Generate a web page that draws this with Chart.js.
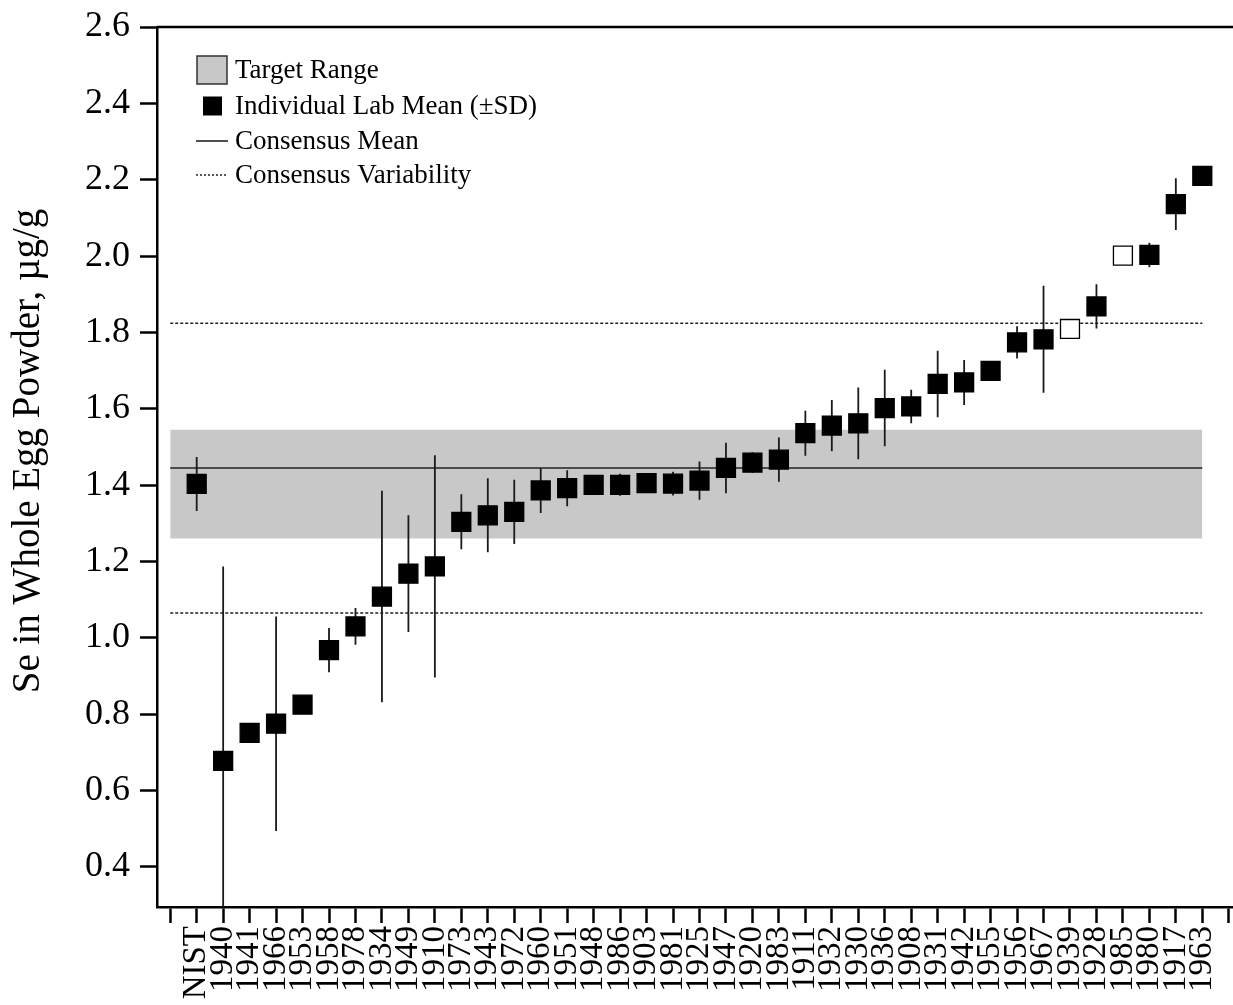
<!DOCTYPE html>
<html>
<head>
<meta charset="utf-8">
<title>Se in Whole Egg Powder</title>
<script src="https://cdn.jsdelivr.net/npm/chart.js@4.4.0/dist/chart.umd.min.js"></script>
<style>
  html, body { margin: 0; padding: 0; background: #fff; overflow: hidden; }
  #wrap { position: relative; width: 1242px; height: 1005px; }
</style>
</head>
<body>
<div id="wrap"><canvas id="chart" width="1242" height="1005"></canvas></div>
<script>
// ====== DADOS ======
// labs ordered by mean value, NIST reference first
const labs = ["NIST", "1940", "1941", "1966", "1953", "1958", "1978", "1934", "1949", "1910",
  "1973", "1943", "1972", "1960", "1951", "1948", "1986", "1903", "1981", "1925",
  "1947", "1920", "1983", "1911", "1932", "1930", "1936", "1908", "1931", "1942",
  "1955", "1956", "1967", "1939", "1928", "1985", "1980", "1917", "1963"];

const means = [1.403, 0.678, 0.751, 0.775, 0.825, 0.968, 1.030, 1.108, 1.168, 1.187,
  1.304, 1.321, 1.330, 1.386, 1.392, 1.401, 1.401, 1.405, 1.404, 1.412,
  1.445, 1.459, 1.467, 1.536, 1.556, 1.562, 1.602, 1.606, 1.665, 1.669,
  1.699, 1.774, 1.782, 1.809, 1.868, 2.001, 2.003, 2.136, 2.210];

const sds = [0.071, 0.509, 0, 0.281, 0, 0.058, 0.048, 0.277, 0.153, 0.291,
  0.072, 0.097, 0.084, 0.059, 0.047, 0, 0.029, 0.015, 0.031, 0.050,
  0.066, 0.027, 0.058, 0.059, 0.067, 0.094, 0.100, 0.044, 0.087, 0.059,
  0, 0.042, 0.140, 0, 0.058, 0, 0.032, 0.068, 0];

// labs drawn as open squares
const openLabs = ["1939", "1985"];

const consensusMean = 1.445;
const targetRange = [1.26, 1.545];
const variability = [1.065, 1.824];

const yTicks = [0.4, 0.6, 0.8, 1.0, 1.2, 1.4, 1.6, 1.8, 2.0, 2.2, 2.4, 2.6];

const yTitle = "Se in Whole Egg Powder, \u00B5g/g";
const legendLabels = ["Target Range", "Individual Lab Mean (\u00B1SD)", "Consensus Mean", "Consensus Variability"];

// ====== MONTAGEM ======
const FONT = '"Liberation Serif", "Times New Roman", serif';
Chart.defaults.font.family = FONT;
Chart.defaults.color = "#000";

const firstX = -1;
const lastX = labs.length - 1;

const markerPoints = labs.map((lab, i) => ({ x: i, y: means[i] }));
const markerFill = labs.map(lab => openLabs.includes(lab) ? "#fff" : "#000");

const errorBarPoints = [];
labs.forEach((lab, i) => {
  if (!sds[i]) return;
  errorBarPoints.push({ x: i, y: means[i] - sds[i] });
  errorBarPoints.push({ x: i, y: means[i] + sds[i] });
  errorBarPoints.push({ x: i, y: null });
});

const hLine = v => [{ x: firstX, y: v }, { x: lastX, y: v }];

// moldura superior, titulo do eixo y e legenda
const framePlugin = {
  id: "frame",
  afterDraw(chart) {
    const ctx = chart.ctx;
    const { left, right, top } = chart.chartArea;
    ctx.save();
    ctx.strokeStyle = "#000";
    ctx.lineWidth = 2.5;
    ctx.beginPath();
    ctx.moveTo(left, top);
    ctx.lineTo(right, top);
    ctx.stroke();

    // titulo do eixo y
    ctx.save();
    ctx.translate(29, top + 424);
    ctx.rotate(-Math.PI / 2);
    ctx.font = "39px " + FONT;
    ctx.fillStyle = "#000";
    ctx.textAlign = "center";
    ctx.textBaseline = "middle";
    ctx.fillText(yTitle, 0, 0);
    ctx.restore();

    // legenda
    const x0 = left + 40;
    const tx = left + 78;
    const rows = [top + 43, top + 79, top + 114, top + 148];
    ctx.font = "27px " + FONT;
    ctx.fillStyle = "#000";
    ctx.textBaseline = "middle";
    ctx.textAlign = "left";
    legendLabels.forEach((t, i) => ctx.fillText(t, tx, rows[i] + 1));

    // target range box
    ctx.fillStyle = "#c8c8c8";
    ctx.fillRect(x0, rows[0] - 14, 30, 28);
    ctx.strokeStyle = "#333";
    ctx.lineWidth = 1.5;
    ctx.strokeRect(x0, rows[0] - 14, 30, 28);
    // lab mean square
    ctx.fillStyle = "#000";
    ctx.fillRect(x0 + 6, rows[1] - 9.5, 19, 19);
    // consensus mean
    ctx.strokeStyle = "#222";
    ctx.lineWidth = 1.6;
    ctx.beginPath();
    ctx.moveTo(x0 - 1, rows[2]);
    ctx.lineTo(x0 + 31, rows[2]);
    ctx.stroke();
    // variability
    ctx.setLineDash([2, 2]);
    ctx.lineWidth = 1.3;
    ctx.beginPath();
    ctx.moveTo(x0 - 1, rows[3]);
    ctx.lineTo(x0 + 31, rows[3]);
    ctx.stroke();
    ctx.restore();
  }
};

new Chart(document.getElementById("chart"), {
  type: "scatter",
  data: {
    datasets: [
      {
        label: "Individual Lab Mean",
        data: markerPoints,
        pointStyle: "rect",
        pointRadius: 13.4,
        pointBackgroundColor: markerFill,
        pointBorderColor: "#000",
        pointBorderWidth: 1.3,
        showLine: false
      },
      {
        label: "SD",
        data: errorBarPoints,
        showLine: true,
        spanGaps: false,
        borderColor: "#1a1a1a",
        borderWidth: 1.8,
        pointRadius: 0
      },
      {
        label: "Consensus Mean",
        data: hLine(consensusMean),
        showLine: true,
        borderColor: "#222",
        borderWidth: 1.6,
        pointRadius: 0
      },
      {
        label: "Consensus Variability low",
        data: hLine(variability[0]),
        showLine: true,
        borderColor: "#222",
        borderWidth: 1.5,
        borderDash: [3, 2],
        pointRadius: 0
      },
      {
        label: "Consensus Variability high",
        data: hLine(variability[1]),
        showLine: true,
        borderColor: "#222",
        borderWidth: 1.5,
        borderDash: [3, 2],
        pointRadius: 0
      },
      {
        label: "Target Range",
        data: hLine(targetRange[1]),
        showLine: true,
        borderWidth: 0,
        backgroundColor: "#c8c8c8",
        fill: { value: targetRange[0] },
        pointRadius: 0
      }
    ]
  },
  options: {
    responsive: false,
    animation: false,
    devicePixelRatio: 1,
    layout: { autoPadding: false, padding: { top: 27, left: 0, right: 0, bottom: 0 } },
    plugins: {
      legend: { display: false },
      tooltip: { enabled: false }
    },
    scales: {
      x: {
        type: "linear",
        min: -1.5,
        max: 39.5,
        afterBuildTicks: s => {
          s.ticks = [];
          for (let i = firstX; i <= labs.length; i++) s.ticks.push({ value: i });
        },
        afterFit: s => {
          s.height = 98;
          s.paddingLeft = 0;
          s.paddingRight = 0;
        },
        ticks: {
          autoSkip: false,
          minRotation: 90,
          maxRotation: 90,
          padding: 3,
          font: { size: 33 },
          color: "#000",
          callback: v => labs[v] || ""
        },
        grid: { drawOnChartArea: false, drawTicks: true, tickLength: 16, tickWidth: 2.5, tickColor: "#000" },
        border: { display: true, color: "#000", width: 2.5 }
      },
      y: {
        type: "linear",
        min: 0.295,
        max: 2.6,
        afterBuildTicks: s => { s.ticks = yTicks.map(v => ({ value: v })); },
        afterFit: s => {
          s.width = 157;
          s.paddingTop = 0;
          s.paddingBottom = 0;
        },
        ticks: {
          padding: 10,
          font: { size: 36 },
          color: "#000",
          callback: v => v.toFixed(1)
        },
        grid: { drawOnChartArea: false, drawTicks: true, tickLength: 17, tickWidth: 2.5, tickColor: "#000" },
        border: { display: true, color: "#000", width: 2.5 }
      }
    }
  },
  plugins: [framePlugin]
});
</script>
</body>
</html>
